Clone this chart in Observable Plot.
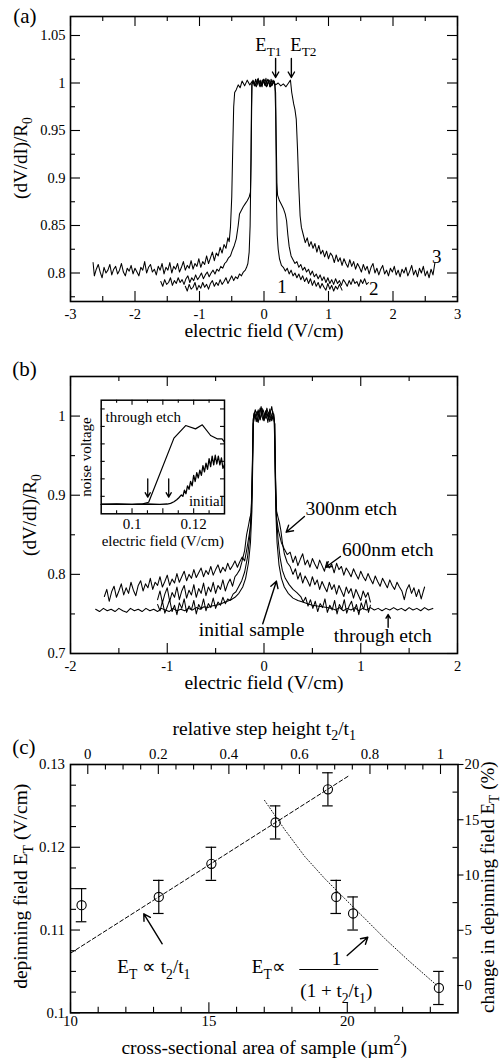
<!DOCTYPE html>
<html><head><meta charset="utf-8">
<script src="https://cdn.jsdelivr.net/npm/d3@7"></script>
<script src="https://cdn.jsdelivr.net/npm/@observablehq/plot@0.6"></script>
<style>
body{margin:0;background:#fff;}
#root{position:relative;width:502px;height:1061px;overflow:hidden;background:#fff;}
#root svg{position:absolute;left:0;}
#root svg text{font-family:"Liberation Serif","Times New Roman",serif;}
</style></head><body><div id="root"></div>
<script>
// ---------------- DATA: panel (a) ----------------
const aCurve1 = [[-1.22,0.786],[-1.19,0.781],[-1.16,0.788],[-1.13,0.783],[-1.1,0.785],[-1.07,0.79],[-1.04,0.782],[-1.01,0.787],[-0.98,0.784],[-0.95,0.79],[-0.92,0.785],[-0.89,0.788],[-0.86,0.783],[-0.83,0.789],[-0.8,0.792],[-0.77,0.786],[-0.74,0.79],[-0.71,0.787],[-0.68,0.793],[-0.65,0.788],[-0.62,0.791],[-0.59,0.795],[-0.56,0.789],[-0.53,0.793],[-0.5,0.797],[-0.47,0.792],[-0.44,0.796],[-0.41,0.794],[-0.38,0.799],[-0.35,0.797],[-0.32,0.801],[-0.29,0.803],[-0.27,0.806],[-0.25,0.81],[-0.23,0.822],[-0.215,0.85],[-0.205,0.9],[-0.197,0.96],[-0.19,0.998],[-0.17,1.003],[-0.15,0.997],[-0.13,1.004],[-0.11,0.998],[-0.09,1.005],[-0.07,0.997],[-0.05,1.003],[-0.03,0.996],[-0.01,1.004],[0.01,0.998],[0.03,1.005],[0.05,0.997],[0.07,1.003],[0.09,0.996],[0.11,1.004],[0.13,0.998],[0.15,1.002],[0.17,0.997],[0.18,0.97],[0.188,0.92],[0.195,0.87],[0.205,0.84],[0.22,0.825],[0.24,0.815],[0.27,0.808],[0.3,0.806],[0.33,0.802],[0.36,0.805],[0.39,0.799],[0.42,0.803],[0.45,0.797],[0.48,0.8],[0.51,0.795],[0.54,0.799],[0.57,0.793],[0.6,0.797],[0.63,0.791],[0.66,0.795],[0.69,0.789],[0.72,0.794],[0.75,0.787],[0.78,0.792],[0.81,0.786],[0.84,0.79],[0.87,0.784],[0.9,0.789],[0.93,0.785],[0.96,0.782],[0.99,0.789],[1.02,0.783],[1.05,0.787],[1.08,0.781],[1.11,0.786],[1.14,0.783],[1.17,0.788],[1.21,0.782]];
const aCurve2 = [[-1.6,0.791],[-1.57,0.786],[-1.54,0.793],[-1.51,0.788],[-1.48,0.79],[-1.45,0.795],[-1.42,0.787],[-1.39,0.792],[-1.36,0.789],[-1.33,0.795],[-1.3,0.79],[-1.27,0.793],[-1.24,0.788],[-1.21,0.794],[-1.18,0.797],[-1.15,0.79],[-1.12,0.795],[-1.09,0.792],[-1.06,0.798],[-1.03,0.793],[-1.0,0.796],[-0.97,0.8],[-0.94,0.794],[-0.91,0.798],[-0.88,0.801],[-0.85,0.796],[-0.82,0.8],[-0.79,0.803],[-0.76,0.799],[-0.73,0.804],[-0.7,0.802],[-0.67,0.807],[-0.64,0.805],[-0.61,0.81],[-0.58,0.812],[-0.55,0.816],[-0.52,0.818],[-0.49,0.824],[-0.46,0.829],[-0.43,0.836],[-0.4,0.85],[-0.38,0.862],[-0.35,0.866],[-0.32,0.87],[-0.29,0.873],[-0.26,0.876],[-0.23,0.88],[-0.21,0.885],[-0.2,0.92],[-0.192,0.97],[-0.185,0.999],[-0.16,1.002],[-0.12,0.996],[-0.08,1.003],[-0.04,0.997],[0,1.004],[0.04,0.996],[0.08,1.003],[0.12,0.997],[0.16,1.002],[0.18,0.99],[0.19,0.94],[0.2,0.895],[0.21,0.882],[0.24,0.876],[0.27,0.872],[0.3,0.868],[0.33,0.862],[0.35,0.855],[0.37,0.84],[0.39,0.828],[0.42,0.818],[0.45,0.814],[0.48,0.81],[0.51,0.812],[0.54,0.806],[0.57,0.809],[0.6,0.803],[0.63,0.806],[0.66,0.801],[0.69,0.804],[0.72,0.798],[0.75,0.802],[0.78,0.796],[0.81,0.799],[0.84,0.794],[0.87,0.798],[0.9,0.792],[0.93,0.796],[0.96,0.79],[0.99,0.795],[1.02,0.789],[1.05,0.793],[1.08,0.788],[1.11,0.794],[1.14,0.789],[1.17,0.792],[1.2,0.787],[1.23,0.793],[1.26,0.79],[1.29,0.786],[1.32,0.792],[1.35,0.788],[1.38,0.794],[1.41,0.789],[1.44,0.791],[1.47,0.786],[1.5,0.793],[1.53,0.789],[1.56,0.794],[1.59,0.788],[1.62,0.79]];
const aCurve3 = [[-2.65,0.811],[-2.63,0.797],[-2.6,0.804],[-2.57,0.809],[-2.54,0.801],[-2.51,0.795],[-2.48,0.806],[-2.45,0.8],[-2.42,0.803],[-2.39,0.809],[-2.36,0.798],[-2.33,0.804],[-2.3,0.807],[-2.27,0.799],[-2.24,0.803],[-2.21,0.81],[-2.18,0.801],[-2.15,0.797],[-2.12,0.805],[-2.09,0.802],[-2.06,0.808],[-2.03,0.799],[-2.0,0.805],[-1.97,0.801],[-1.94,0.797],[-1.91,0.806],[-1.88,0.803],[-1.85,0.812],[-1.82,0.8],[-1.79,0.806],[-1.76,0.809],[-1.73,0.801],[-1.7,0.804],[-1.67,0.798],[-1.64,0.807],[-1.61,0.803],[-1.58,0.81],[-1.55,0.799],[-1.52,0.806],[-1.49,0.803],[-1.46,0.811],[-1.43,0.8],[-1.4,0.807],[-1.37,0.804],[-1.34,0.81],[-1.31,0.801],[-1.28,0.806],[-1.25,0.812],[-1.22,0.803],[-1.19,0.808],[-1.16,0.805],[-1.13,0.813],[-1.1,0.804],[-1.07,0.81],[-1.04,0.807],[-1.01,0.815],[-0.98,0.806],[-0.95,0.812],[-0.92,0.809],[-0.89,0.818],[-0.86,0.81],[-0.83,0.816],[-0.8,0.822],[-0.77,0.813],[-0.74,0.821],[-0.71,0.818],[-0.68,0.827],[-0.65,0.821],[-0.62,0.83],[-0.59,0.826],[-0.56,0.837],[-0.54,0.833],[-0.52,0.848],[-0.5,0.88],[-0.485,0.93],[-0.47,0.975],[-0.455,0.99],[-0.43,0.993],[-0.4,0.998],[-0.37,0.995],[-0.34,1.002],[-0.3,0.997],[-0.26,1.003],[-0.22,0.998],[-0.18,1.002],[-0.14,0.997],[-0.1,1.004],[-0.06,0.996],[-0.02,1.003],[0.02,0.997],[0.06,1.004],[0.1,0.996],[0.14,1.003],[0.18,0.998],[0.22,1.0],[0.26,0.997],[0.3,0.999],[0.34,0.996],[0.38,1.0],[0.41,1.003],[0.43,0.99],[0.46,0.978],[0.48,0.972],[0.5,0.962],[0.52,0.93],[0.54,0.89],[0.56,0.86],[0.58,0.848],[0.61,0.84],[0.64,0.832],[0.67,0.837],[0.7,0.828],[0.73,0.833],[0.76,0.826],[0.79,0.831],[0.82,0.822],[0.85,0.829],[0.88,0.82],[0.91,0.824],[0.94,0.817],[0.97,0.823],[1.0,0.815],[1.03,0.821],[1.06,0.818],[1.09,0.811],[1.12,0.819],[1.15,0.812],[1.18,0.816],[1.21,0.808],[1.24,0.815],[1.27,0.81],[1.3,0.806],[1.33,0.814],[1.36,0.807],[1.39,0.812],[1.42,0.804],[1.45,0.81],[1.48,0.806],[1.51,0.801],[1.54,0.809],[1.57,0.803],[1.6,0.807],[1.63,0.799],[1.66,0.806],[1.69,0.81],[1.72,0.8],[1.75,0.805],[1.78,0.798],[1.81,0.804],[1.84,0.808],[1.87,0.799],[1.9,0.803],[1.93,0.797],[1.96,0.805],[1.99,0.801],[2.02,0.807],[2.05,0.798],[2.08,0.803],[2.11,0.796],[2.14,0.804],[2.17,0.8],[2.2,0.806],[2.23,0.797],[2.26,0.802],[2.29,0.808],[2.32,0.798],[2.35,0.803],[2.38,0.796],[2.41,0.805],[2.44,0.8],[2.47,0.807],[2.5,0.797],[2.53,0.802],[2.56,0.795],[2.59,0.804],[2.62,0.798],[2.65,0.811]];
const aXMajor = [-3,-2,-1,0,1,2,3];
const aXMinor = [-2.5,-1.5,-0.5,0.5,1.5,2.5];
const aYMajor = [0.8,0.85,0.9,0.95,1,1.05];
const aYMinor = [0.775,0.825,0.875,0.925,0.975,1.025];
const aCurveLabels = [{t:"1",x:0.28,y:0.7858},{t:"2",x:1.70,y:0.7834},{t:"3",x:2.68,y:0.8166}];
const aThresholdLabels = [{t:"E_{T1}",x:-0.134,y:1.0342},{t:"E_{T2}",x:0.408,y:1.0342}];
const aArrows = [[0.180,1.0258,0.180,1.0058],[0.424,1.0258,0.424,1.0058]];

// ---------------- DATA: panel (b) ----------------
const bThroughEtch = [[-1.74,0.756],[-1.7,0.753],[-1.66,0.757],[-1.62,0.754],[-1.58,0.756],[-1.54,0.753],[-1.5,0.757],[-1.46,0.754],[-1.42,0.752],[-1.38,0.757],[-1.34,0.754],[-1.3,0.756],[-1.26,0.753],[-1.22,0.757],[-1.18,0.754],[-1.14,0.756],[-1.1,0.753],[-1.06,0.757],[-1.02,0.755],[-0.98,0.753],[-0.94,0.757],[-0.9,0.754],[-0.86,0.756],[-0.82,0.754],[-0.78,0.757],[-0.74,0.755],[-0.7,0.758],[-0.66,0.756],[-0.62,0.759],[-0.58,0.758],[-0.54,0.76],[-0.5,0.761],[-0.46,0.762],[-0.42,0.764],[-0.38,0.766],[-0.34,0.768],[-0.3,0.771],[-0.26,0.776],[-0.22,0.784],[-0.19,0.795],[-0.16,0.815],[-0.14,0.84],[-0.125,0.88],[-0.115,0.95],[-0.11,0.99],[-0.1,1.004],[-0.08,0.993],[-0.06,1.008],[-0.04,0.995],[-0.02,1.01],[0,0.994],[0.02,1.006],[0.04,0.992],[0.06,1.009],[0.08,0.996],[0.1,1.003],[0.108,0.99],[0.113,0.95],[0.122,0.88],[0.135,0.84],[0.155,0.812],[0.18,0.795],[0.21,0.784],[0.25,0.776],[0.3,0.77],[0.35,0.767],[0.4,0.765],[0.45,0.763],[0.5,0.761],[0.55,0.76],[0.6,0.759],[0.65,0.758],[0.7,0.757],[0.74,0.755],[0.78,0.758],[0.82,0.754],[0.86,0.757],[0.9,0.755],[0.94,0.758],[0.98,0.754],[1.02,0.757],[1.06,0.755],[1.1,0.758],[1.14,0.755],[1.18,0.757],[1.22,0.754],[1.26,0.757],[1.3,0.755],[1.34,0.758],[1.38,0.755],[1.42,0.757],[1.46,0.754],[1.5,0.758],[1.54,0.755],[1.58,0.757],[1.62,0.754],[1.66,0.758],[1.7,0.755],[1.745,0.757]];
const bInitial = [[-1.1,0.762],[-1.075,0.754],[-1.05,0.766],[-1.025,0.751],[-1.0,0.759],[-0.975,0.768],[-0.95,0.753],[-0.925,0.761],[-0.9,0.749],[-0.875,0.764],[-0.85,0.757],[-0.825,0.769],[-0.8,0.752],[-0.775,0.76],[-0.75,0.755],[-0.725,0.767],[-0.7,0.75],[-0.675,0.762],[-0.65,0.756],[-0.625,0.769],[-0.6,0.754],[-0.575,0.763],[-0.55,0.758],[-0.525,0.77],[-0.5,0.757],[-0.475,0.765],[-0.45,0.761],[-0.425,0.771],[-0.4,0.763],[-0.375,0.769],[-0.35,0.767],[-0.32,0.775],[-0.29,0.778],[-0.26,0.785],[-0.23,0.792],[-0.2,0.803],[-0.17,0.822],[-0.15,0.845],[-0.135,0.87],[-0.12,0.93],[-0.112,0.99],[-0.1,0.998],[-0.07,1.006],[-0.04,0.996],[-0.01,1.008],[0.02,0.997],[0.05,1.005],[0.08,0.994],[0.1,1.002],[0.11,0.99],[0.117,0.93],[0.13,0.87],[0.145,0.845],[0.165,0.822],[0.19,0.805],[0.22,0.795],[0.26,0.787],[0.3,0.781],[0.34,0.777],[0.38,0.772],[0.405,0.765],[0.43,0.771],[0.455,0.76],[0.48,0.768],[0.505,0.757],[0.53,0.766],[0.555,0.753],[0.58,0.763],[0.605,0.758],[0.63,0.769],[0.655,0.752],[0.68,0.761],[0.705,0.755],[0.73,0.767],[0.755,0.75],[0.78,0.762],[0.805,0.756],[0.83,0.768],[0.855,0.751],[0.88,0.76],[0.905,0.766],[0.93,0.753],[0.955,0.762],[0.98,0.749],[1.005,0.764],[1.03,0.756],[1.055,0.768],[1.08,0.752],[1.1,0.761]];
const b300nm = [[-1.1,0.768],[-1.075,0.779],[-1.05,0.764],[-1.025,0.775],[-1.0,0.783],[-0.975,0.766],[-0.95,0.777],[-0.925,0.771],[-0.9,0.784],[-0.875,0.768],[-0.85,0.779],[-0.825,0.786],[-0.8,0.77],[-0.775,0.78],[-0.75,0.774],[-0.725,0.787],[-0.7,0.771],[-0.675,0.782],[-0.65,0.776],[-0.625,0.789],[-0.6,0.773],[-0.575,0.784],[-0.55,0.778],[-0.525,0.79],[-0.5,0.776],[-0.475,0.786],[-0.45,0.781],[-0.425,0.793],[-0.4,0.779],[-0.375,0.788],[-0.35,0.794],[-0.325,0.785],[-0.3,0.797],[-0.275,0.801],[-0.25,0.806],[-0.23,0.815],[-0.2,0.83],[-0.18,0.85],[-0.16,0.862],[-0.145,0.872],[-0.13,0.878],[-0.12,0.94],[-0.113,0.995],[-0.1,1.004],[-0.07,0.993],[-0.04,1.01],[-0.01,0.995],[0.02,1.007],[0.05,0.996],[0.08,1.012],[0.1,0.997],[0.112,0.99],[0.12,0.92],[0.13,0.88],[0.145,0.872],[0.16,0.865],[0.175,0.855],[0.19,0.84],[0.21,0.826],[0.24,0.815],[0.27,0.81],[0.3,0.8],[0.325,0.807],[0.35,0.794],[0.375,0.802],[0.4,0.789],[0.425,0.798],[0.45,0.792],[0.475,0.785],[0.5,0.797],[0.525,0.787],[0.55,0.793],[0.575,0.781],[0.6,0.791],[0.625,0.784],[0.65,0.778],[0.675,0.79],[0.7,0.781],[0.725,0.787],[0.75,0.775],[0.775,0.786],[0.8,0.779],[0.825,0.772],[0.85,0.784],[0.875,0.776],[0.9,0.782],[0.925,0.77],[0.95,0.781],[0.975,0.774],[1.0,0.767],[1.025,0.779],[1.05,0.771],[1.075,0.777],[1.1,0.765]];
const b600nm = [[-1.65,0.772],[-1.625,0.781],[-1.6,0.766],[-1.575,0.778],[-1.55,0.785],[-1.525,0.771],[-1.5,0.779],[-1.475,0.788],[-1.45,0.774],[-1.425,0.783],[-1.4,0.776],[-1.375,0.79],[-1.35,0.78],[-1.325,0.773],[-1.3,0.786],[-1.275,0.792],[-1.25,0.779],[-1.225,0.788],[-1.2,0.783],[-1.175,0.795],[-1.15,0.781],[-1.125,0.79],[-1.1,0.786],[-1.075,0.797],[-1.05,0.784],[-1.025,0.791],[-1.0,0.799],[-0.975,0.786],[-0.95,0.794],[-0.925,0.789],[-0.9,0.801],[-0.875,0.79],[-0.85,0.797],[-0.825,0.804],[-0.8,0.792],[-0.775,0.8],[-0.75,0.795],[-0.725,0.806],[-0.7,0.796],[-0.675,0.802],[-0.65,0.808],[-0.625,0.797],[-0.6,0.805],[-0.575,0.8],[-0.55,0.81],[-0.525,0.799],[-0.5,0.806],[-0.475,0.812],[-0.45,0.802],[-0.425,0.809],[-0.4,0.804],[-0.375,0.814],[-0.35,0.806],[-0.325,0.811],[-0.3,0.817],[-0.275,0.809],[-0.25,0.816],[-0.225,0.822],[-0.2,0.817],[-0.18,0.83],[-0.16,0.845],[-0.14,0.86],[-0.125,0.9],[-0.115,0.97],[-0.108,1.0],[-0.09,1.008],[-0.06,0.992],[-0.03,1.012],[0,0.995],[0.03,1.01],[0.06,0.993],[0.09,1.006],[0.105,0.995],[0.112,0.96],[0.12,0.9],[0.13,0.87],[0.15,0.855],[0.18,0.84],[0.21,0.832],[0.24,0.825],[0.27,0.828],[0.3,0.815],[0.325,0.823],[0.35,0.811],[0.375,0.819],[0.4,0.826],[0.425,0.812],[0.45,0.818],[0.475,0.809],[0.5,0.82],[0.525,0.813],[0.55,0.807],[0.575,0.818],[0.6,0.811],[0.625,0.804],[0.65,0.816],[0.675,0.808],[0.7,0.813],[0.725,0.802],[0.75,0.814],[0.775,0.806],[0.8,0.81],[0.825,0.799],[0.85,0.808],[0.875,0.803],[0.9,0.797],[0.925,0.807],[0.95,0.8],[0.975,0.794],[1.0,0.804],[1.025,0.797],[1.05,0.792],[1.075,0.801],[1.1,0.794],[1.125,0.788],[1.15,0.798],[1.175,0.791],[1.2,0.785],[1.225,0.795],[1.25,0.789],[1.275,0.783],[1.3,0.793],[1.325,0.786],[1.35,0.781],[1.375,0.79],[1.4,0.784],[1.425,0.779],[1.45,0.768],[1.475,0.781],[1.5,0.787],[1.525,0.776],[1.55,0.783],[1.575,0.772],[1.6,0.781],[1.625,0.769],[1.645,0.778],[1.66,0.784]];
const bXMajor = [-2,-1,0,1,2];
const bXMinor = [-1.5,-0.5,0.5,1.5];
const bYMajor = [0.7,0.8,0.9,1];
const bYMinor = [0.75,0.85,0.95];
const bLabels = [{t:"300nm etch",x:0.428,y:0.8744},{t:"600nm etch",x:0.807,y:0.8226},{t:"initial sample",x:-0.674,y:0.7227},{t:"through etch",x:0.721,y:0.7143}];
const bArrows = [[0.418,0.8731,0.229,0.8533],[0.790,0.8226,0.638,0.809],[-0.013,0.7375,0.128,0.7913],[1.283,0.7332,1.283,0.7493]];

// inset of (b)
const inThroughEtch = [[0.09,-0.45],[0.1,-0.46],[0.1035,-0.43],[0.1054,-0.34],[0.1136,3.33],[0.1174,4.05],[0.1206,3.86],[0.1228,4.09],[0.1255,3.48],[0.1276,3.29],[0.1292,3.29],[0.13,3.1]];
const inInitial = [[0.09,-0.46],[0.095,-0.44],[0.1,-0.46],[0.105,-0.44],[0.109,-0.46],[0.1114,-0.44],[0.1125,-0.4],[0.1136,-0.31],[0.1145,-0.2],[0.1152,-0.08],[0.116,0.08],[0.1165,0.0],[0.117,0.35],[0.1175,0.15],[0.118,0.6],[0.1185,0.4],[0.119,0.85],[0.1195,0.6],[0.12,1.2],[0.1205,0.85],[0.121,1.35],[0.1215,1.05],[0.122,1.5],[0.1225,1.2],[0.123,1.75],[0.1235,1.4],[0.124,1.9],[0.1245,1.55],[0.125,2.15],[0.1255,1.7],[0.126,2.3],[0.1265,1.8],[0.127,2.35],[0.1275,1.85],[0.128,2.3],[0.1285,1.8],[0.129,2.2],[0.1295,1.6],[0.13,1.8]];
const inXLabels = [0.1,0.12];
const inXMajor = [0.1,0.11,0.12];
const inXMinor = [0.095,0.105,0.115,0.125];
const inYTicks = [0,1,2,3,4,5];
const inArrows = [[0.1051,1.0,0.1051,-0.05],[0.1119,1.0,0.1119,-0.05]];

// ---------------- DATA: panel (c) ----------------
const cArea  = [10.40, 13.19, 15.09, 17.41, 19.30, 19.60, 20.21, 23.31];
const cField = [0.1130, 0.1140, 0.1180, 0.1230, 0.1270, 0.1140, 0.1120, 0.1030];
const cError = [0.002, 0.002, 0.002, 0.002, 0.002, 0.002, 0.002, 0.002];
const cDashed = [[10, 0.1072],[20.04, 0.1286]];
const cDotted = [[17.01,0.12567],[17.74,0.12213],[18.46,0.1189],[19.19,0.1162],[19.91,0.11379],[20.64,0.11137],[21.36,0.10895],[22.21,0.10632],[23.24,0.1033]];
const cXMajor = [10,15,20];
const cXMinor = [11,12,13,14,16,17,18,19,21,22,23];
const cYMajor = [0.1,0.11,0.12,0.13];
const cYMinor = [0.1025,0.105,0.1075,0.1125,0.115,0.1175,0.1225,0.125,0.1275];
const cTopMajor = [0,0.2,0.4,0.6,0.8,1];
const cTopMinor = [0.05,0.1,0.15,0.25,0.3,0.35,0.45,0.5,0.55,0.65,0.7,0.75,0.85,0.9,0.95];
const cRightMajor = [0,5,10,15,20];
const cRightMinor = [2.5,7.5,12.5,17.5];
const cTexts = [{t:"E_{T} \u221d t_{2}/t_{1}",x:13.01,y:0.10475,a:"start"},{t:"E_{T}\u221d",x:17.164,y:0.10475,a:"start"},{t:"1",x:19.61,y:0.10572,a:"middle"},{t:"(1 + t_{2}/t_{1})",x:19.603,y:0.10188,a:"middle"}];
const cFraction = [{x1:18.284,x2:21.138,y:0.10523}];
const cArrows = [[13.313,0.10834,12.648,0.11196],[19.996,0.10692,20.741,0.10913]];

// ---------------- RENDERING ----------------
const root = document.getElementById("root");
const FONT = "'Liberation Serif','Times New Roman',serif";
const baseStyle = {fontFamily: FONT, fontSize: "14.5px", background: "transparent", color: "black", overflow: "visible"};
const W = 502;
const K = "black";
const XY = {x: d => d[0], y: d => d[1], stroke: K, strokeWidth: 1.05, strokeLinejoin: "round"};
const tB = (arr, len, ih) => Plot.tickX(arr, {x: d => d, insetTop: ih - len, stroke: K, strokeWidth: 1.1});
const tT = (arr, len, ih) => Plot.tickX(arr, {x: d => d, insetBottom: ih - len, stroke: K, strokeWidth: 1.1});
const tL = (arr, len, iw) => Plot.tickY(arr, {y: d => d, insetRight: iw - len, stroke: K, strokeWidth: 1.1});
const tR = (arr, len, iw) => Plot.tickY(arr, {y: d => d, insetLeft: iw - len, stroke: K, strokeWidth: 1.1});
const txt = (s, o) => Plot.text([s], {text: d => d, fill: K, textAnchor: "middle", ...o});
const arrows = (arr, o = {}) => Plot.arrow(arr, {x1: d => d[0], y1: d => d[1], x2: d => d[2], y2: d => d[3], stroke: K, strokeWidth: 1.4, headLength: 8, ...o});
const fmt = d => String(d);

function richify(svg) {
  svg.querySelectorAll("text").forEach(el => {
    const t = el.textContent;
    if (!/[_^]\{/.test(t)) return;
    const fs = parseFloat(getComputedStyle(el).fontSize) || 15;
    while (el.firstChild) el.removeChild(el.firstChild);
    const re = /([_^])\{([^}]*)\}|([^_^]+)/g;
    let m, shift = 0;
    while ((m = re.exec(t))) {
      const ts = document.createElementNS("http://www.w3.org/2000/svg", "tspan");
      let target = 0, s = m[3];
      if (m[1]) { target = m[1] === "_" ? 0.28 * fs : -0.42 * fs; s = m[2]; ts.setAttribute("font-size", (0.72 * fs).toFixed(2)); }
      if (target !== shift) ts.setAttribute("dy", (target - shift).toFixed(2));
      shift = target;
      ts.textContent = s;
      el.appendChild(ts);
    }
  });
}
function place(svg, top, left = 0) {
  svg.style.top = top + "px";
  svg.style.left = left + "px";
  root.appendChild(svg);
  richify(svg);
}

// ----- Panel (a)
{
  const ih = 345 - 16 - 44, iw = 502 - 70 - 45;
  const svg = Plot.plot({
    width: W, height: 345, marginTop: 16, marginRight: 45, marginBottom: 44, marginLeft: 70,
    x: {domain: [-3, 3], axis: null}, y: {domain: [0.77, 1.07], axis: null},
    style: baseStyle,
    marks: [
      Plot.line(aCurve3, XY), Plot.line(aCurve2, XY), Plot.line(aCurve1, XY),
      tB(aXMajor, 10, ih), tB(aXMinor, 5, ih), tT(aXMajor, 10, ih), tT(aXMinor, 5, ih),
      tL(aYMajor, 10, iw), tL(aYMinor, 5, iw), tR(aYMajor, 10, iw), tR(aYMinor, 5, iw),
      Plot.frame({stroke: K, strokeWidth: 1.6}),
      Plot.text(aXMajor, {x: d => d, text: fmt, frameAnchor: "bottom", dy: 17, lineAnchor: "bottom", textAnchor: "middle", fontSize: 14.5}),
      Plot.text(aYMajor, {y: d => d, text: fmt, frameAnchor: "left", dx: -5, textAnchor: "end", lineAnchor: "middle", fontSize: 14.5}),
      txt("electric field (V/cm)", {frameAnchor: "bottom", dy: 35, lineAnchor: "bottom", fontSize: 19.5}),
      txt("(dV/dI)/R_{0}", {frameAnchor: "left", rotate: -90, dx: -43.5, dy: -1, lineAnchor: "bottom", fontSize: 19}),
      txt("(a)", {frameAnchor: "top-left", dx: -57.3, dy: 6, textAnchor: "start", lineAnchor: "bottom", fontSize: 21}),
      Plot.text(aCurveLabels, {x: "x", y: "y", text: "t", textAnchor: "middle", lineAnchor: "middle", fontSize: 19}),
      Plot.text(aThresholdLabels, {x: "x", y: "y", text: "t", textAnchor: "start", lineAnchor: "bottom", fontSize: 18.5}),
      arrows(aArrows, {headLength: 7})
    ]
  });
  place(svg, 0);
}

// ----- Panel (b)
{
  const ih = 345 - 31 - 37, iw = 502 - 70 - 45;
  const svg = Plot.plot({
    width: W, height: 345, marginTop: 31, marginRight: 45, marginBottom: 37, marginLeft: 70,
    x: {domain: [-2, 2], axis: null}, y: {domain: [0.7, 1.05], axis: null},
    style: baseStyle,
    marks: [
      Plot.line(bInitial, XY), Plot.line(b300nm, XY), Plot.line(b600nm, XY), Plot.line(bThroughEtch, XY),
      tB(bXMajor, 10, ih), tB(bXMinor, 5, ih), tT(bXMajor, 10, ih), tT(bXMinor, 5, ih),
      tL(bYMajor, 10, iw), tL(bYMinor, 5, iw), tR(bYMajor, 10, iw), tR(bYMinor, 5, iw),
      Plot.frame({stroke: K, strokeWidth: 1.6}),
      Plot.text(bXMajor, {x: d => d, text: fmt, frameAnchor: "bottom", dy: 17, lineAnchor: "bottom", textAnchor: "middle", fontSize: 14.5}),
      Plot.text(bYMajor, {y: d => d, text: fmt, frameAnchor: "left", dx: -5, textAnchor: "end", lineAnchor: "middle", fontSize: 14.5}),
      txt("electric field (V/cm)", {frameAnchor: "bottom", dy: 35, lineAnchor: "bottom", fontSize: 19.5}),
      txt("(dV/dI)/R_{0}", {frameAnchor: "left", rotate: -90, dx: -34.5, dy: 0, lineAnchor: "bottom", fontSize: 19}),
      txt("(b)", {frameAnchor: "top-left", dx: -58.3, dy: -1, textAnchor: "start", lineAnchor: "bottom", fontSize: 21}),
      Plot.text(bLabels, {x: "x", y: "y", text: "t", textAnchor: "start", lineAnchor: "bottom", fontSize: 19.5}),
      arrows(bArrows)
    ]
  });
  place(svg, 345);
}

// ----- Inset of (b)
{
  const ml = 20.7, mr = 6, mt = 4.7, mb = 38.7, w = 150, h = 157;
  const iw = w - ml - mr, ih = h - mt - mb;
  const svg = Plot.plot({
    width: w, height: h, marginTop: mt, marginRight: mr, marginBottom: mb, marginLeft: ml,
    x: {domain: [0.09, 0.13], axis: null}, y: {domain: [-1, 5.5], axis: null},
    style: baseStyle,
    marks: [
      Plot.line(inThroughEtch, {...XY, strokeWidth: 1.2}),
      Plot.line(inInitial, {...XY, strokeWidth: 1.3}),
      tB(inXMajor, 5, ih), tB(inXMinor, 3, ih), tT(inXMajor, 5, ih), tT(inXMinor, 3, ih),
      tL(inYTicks, 4, iw), tR(inYTicks, 4, iw),
      Plot.frame({stroke: K, strokeWidth: 1.5}),
      Plot.text(inXLabels, {x: d => d, text: fmt, frameAnchor: "bottom", dy: 15, lineAnchor: "bottom", textAnchor: "middle", fontSize: 15}),
      txt("electric field (V/cm)", {frameAnchor: "bottom", dy: 31.7, lineAnchor: "bottom", fontSize: 15}),
      txt("noise voltage", {frameAnchor: "left", rotate: -90, dx: -10.7, lineAnchor: "bottom", fontSize: 15}),
      txt("through etch", {x: 0.0914, y: 4.28, textAnchor: "start", lineAnchor: "bottom", fontSize: 15}),
      txt("initial", {x: 0.1298, y: -0.58, textAnchor: "end", lineAnchor: "bottom", fontSize: 15}),
      arrows(inArrows, {headLength: 6, strokeWidth: 1.3})
    ]
  });
  place(svg, 395, 80);
}

// ----- Panel (c)
{
  const mt = 74, mb = 48.7, ml = 70, mr = 44.5, h = 371;
  const ih = h - mt - mb, iw = W - ml - mr;
  const pts = cArea.map((x, i) => ({x, y: cField[i], lo: cField[i] - cError[i], hi: cField[i] + cError[i]}));
  const svg = Plot.plot({
    width: W, height: h, marginTop: mt, marginRight: mr, marginBottom: mb, marginLeft: ml,
    x: {domain: [10, 24], axis: null}, y: {domain: [0.1, 0.13], axis: null},
    style: baseStyle,
    marks: [
      Plot.line(cDashed, {...XY, strokeWidth: 1, strokeDasharray: "4,2.5"}),
      Plot.line(cDotted, {...XY, strokeWidth: 0.9, strokeDasharray: "1,2"}),
      Plot.ruleX(pts, {x: "x", y1: "lo", y2: "hi", stroke: K, strokeWidth: 1.2}),
      Plot.ruleY(pts, {y: "hi", x1: "x", x2: "x", insetLeft: -5.3, insetRight: -5.3, stroke: K, strokeWidth: 1.2}),
      Plot.ruleY(pts, {y: "lo", x1: "x", x2: "x", insetLeft: -5.3, insetRight: -5.3, stroke: K, strokeWidth: 1.2}),
      Plot.dot(pts, {x: "x", y: "y", r: 4.6, stroke: K, fill: "none", strokeWidth: 1.1}),
      tB(cXMajor, 10, ih), tB(cXMinor, 5.5, ih),
      tL(cYMajor, 10, iw), tL(cYMinor, 6, iw),
      Plot.frame({stroke: K, strokeWidth: 1.6}),
      Plot.text(cXMajor, {x: d => d, text: fmt, frameAnchor: "bottom", dy: 12.7, lineAnchor: "bottom", textAnchor: "middle", fontSize: 14.8}),
      Plot.text(cYMajor, {y: d => d, text: fmt, frameAnchor: "left", dx: -5.5, textAnchor: "end", lineAnchor: "middle", fontSize: 14.8}),
      txt("cross-sectional area of sample (\u00b5m^{2})", {frameAnchor: "bottom", dy: 40.7, lineAnchor: "bottom", fontSize: 19.5}),
      txt("depinning field E_{T} (V/cm)", {frameAnchor: "left", rotate: -90, dx: -43.4, dy: -2.4, lineAnchor: "bottom", fontSize: 19.5}),
      Plot.text(cTexts, {x: "x", y: "y", text: "t", textAnchor: d => d.a, lineAnchor: "bottom", fontSize: 19}),
      Plot.ruleY(cFraction, {y: "y", x1: "x1", x2: "x2", stroke: K, strokeWidth: 1.2}),
      arrows(cArrows)
    ]
  });
  place(svg, 690);

  // secondary axes (top: relative step height, right: percentage change)
  const svg2 = Plot.plot({
    width: W, height: h, marginTop: mt, marginRight: mr, marginBottom: mb, marginLeft: ml,
    x: {domain: [-0.049, 1.0496], axis: null}, y: {domain: [-2.47, 20], axis: null},
    style: baseStyle,
    marks: [
      tT(cTopMajor, 10, ih), tT(cTopMinor, 5.5, ih),
      Plot.tickY(cRightMajor, {y: d => d, insetLeft: iw, insetRight: -6, stroke: K, strokeWidth: 1.1}),
      tR(cRightMinor, 5, iw),
      Plot.text(cTopMajor, {x: d => d, text: fmt, frameAnchor: "top", dy: -5.7, lineAnchor: "bottom", textAnchor: "middle", fontSize: 14.8}),
      Plot.text(cRightMajor, {y: d => d, text: fmt, frameAnchor: "right", dx: 6.5, textAnchor: "start", lineAnchor: "middle", fontSize: 14.8}),
      txt("relative step height t_{2}/t_{1}", {frameAnchor: "top", dy: -29.7, lineAnchor: "bottom", fontSize: 19.5}),
      txt("change in depinning field E_{T} (%)", {frameAnchor: "right", rotate: -90, dx: 36, dy: -1.5, lineAnchor: "bottom", fontSize: 19}),
      txt("(c)", {frameAnchor: "top-left", dx: -58.3, dy: -11, textAnchor: "start", lineAnchor: "bottom", fontSize: 21})
    ]
  });
  place(svg2, 690);
}
</script></body></html>
